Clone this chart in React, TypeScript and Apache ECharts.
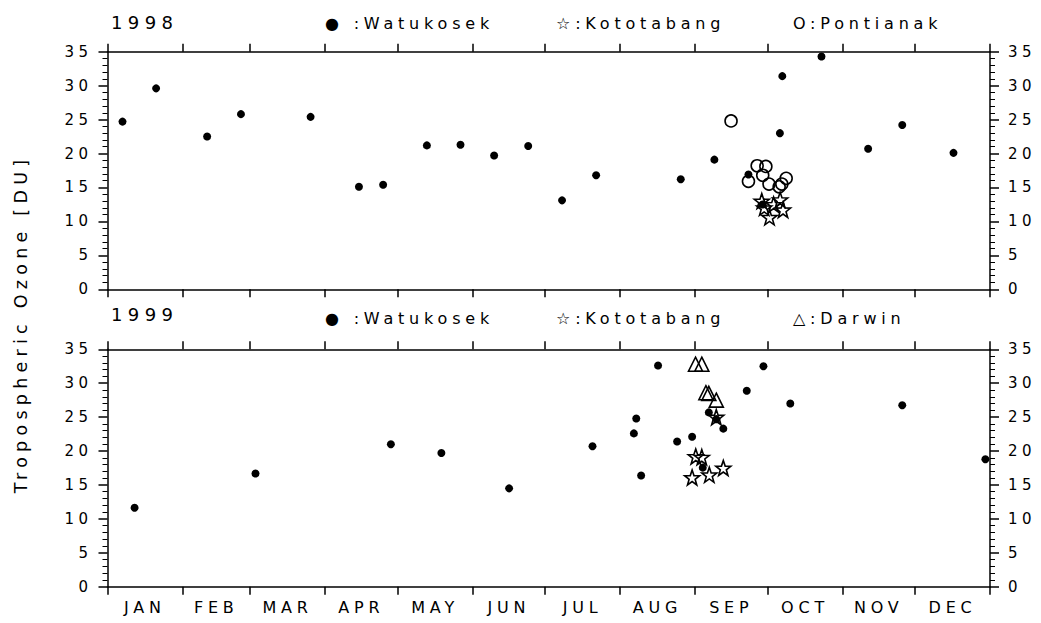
import React, { useEffect, useRef } from "react";
import * as echarts from "echarts";

const monthNames = ["JAN", "FEB", "MAR", "APR", "MAY", "JUN", "JUL", "AUG", "SEP", "OCT", "NOV", "DEC"];
const monthStarts = [0, 31, 59, 90, 120, 151, 181, 212, 243, 273, 304, 334, 365];
const monthMids = monthStarts.slice(0, 12).map((s, i) => (s + monthStarts[i + 1]) / 2);

// 1998
const wat98Days = [6.2, 20.1, 41.2, 55.2, 84.0, 104.0, 114.0, 132.1, 146.0, 159.9, 174.0, 188.0, 202.1, 237.1, 251.0, 265.1, 270.9, 278.1, 279.1, 295.3, 314.6, 328.7, 349.9];
const wat98Vals = [24.7, 29.6, 22.5, 25.8, 25.4, 15.1, 15.4, 21.2, 21.3, 19.7, 21.1, 13.1, 16.8, 16.2, 19.1, 16.9, 12.5, 23.0, 31.4, 34.3, 20.7, 24.2, 20.1];
const pon98Days = [257.9, 268.7, 272.3, 271.0, 265.1, 273.6, 277.8, 278.9, 280.7];
const pon98Vals = [24.8, 18.2, 18.1, 16.8, 15.9, 15.5, 15.1, 15.5, 16.35];
const kot98Days = [270.6, 278.2, 271.6, 275.5, 279.4, 273.8];
const kot98Vals = [13.0, 13.2, 12.0, 12.5, 11.7, 10.6];

// 1999
const wat99Days = [11.2, 61.2, 117.2, 138.1, 166.1, 200.6, 217.7, 218.7, 220.7, 227.7, 235.6, 241.8, 246.2, 248.7, 251.8, 254.7, 264.4, 271.3, 282.4, 328.7, 363.1];
const wat99Vals = [11.65, 16.7, 21.0, 19.7, 14.5, 20.7, 22.6, 24.8, 16.4, 32.6, 21.4, 22.1, 17.55, 25.7, 24.7, 23.3, 28.9, 32.5, 27.0, 26.75, 18.8];
const kot99Days = [251.8, 243.3, 245.8, 241.8, 248.9, 254.7];
const kot99Vals = [25.0, 19.2, 19.1, 16.1, 16.5, 17.5];
const dar99Days = [243.2, 245.8, 247.5, 248.7, 251.8];
const dar99Vals = [32.8, 32.8, 28.6, 28.5, 27.5];

const FONT = "DejaVu Sans";
const STAR = "path://M0,-10L2.35,-3.24L9.51,-3.09L3.8,1.24L5.88,8.09L0,4L-5.88,8.09L-3.8,1.24L-9.51,-3.09L-2.35,-3.24Z";

const zip = (d: number[], v: number[]) => d.map((x, i) => [x, v[i]]);

const lineStyle = { color: "#000", width: 1.5 };

function xAxisFor(gridIndex: number, position: string, labels: boolean) {
  return {
    type: "value",
    gridIndex,
    min: 0,
    max: 365,
    position,
    axisLine: { show: true, onZero: false, lineStyle },
    axisTick: { show: true, customValues: monthStarts, length: 8, lineStyle },
    axisLabel: labels
      ? {
          show: true,
          customValues: monthMids,
          margin: 13,
          fontSize: 16,
          fontFamily: FONT,
          color: "#000",
          formatter: (v: number) => {
            let best = 0;
            monthMids.forEach((m, i) => {
              if (Math.abs(m - v) < Math.abs(monthMids[best] - v)) best = i;
            });
            return monthNames[best];
          },
        }
      : { show: false },
    splitLine: { show: false },
  };
}

function yAxisFor(gridIndex: number, position: string) {
  return {
    type: "value",
    gridIndex,
    min: 0,
    max: 35,
    interval: 5,
    position,
    axisLine: { show: true, onZero: false, lineStyle },
    axisTick: { show: true, length: 9, lineStyle },
    minorTick: { show: true, splitNumber: 5, length: 5, lineStyle: { color: "#000", width: 1 } },
    axisLabel: { show: true, margin: position === "left" ? 15 : 18, fontSize: 15, fontFamily: FONT, color: "#000" },
    splitLine: { show: false },
  };
}

const dotSeries = (x: number, y: number, data: number[][]) => ({
  type: "scatter",
  xAxisIndex: x,
  yAxisIndex: y,
  data,
  symbol: "circle",
  symbolSize: 8,
  itemStyle: { color: "#000", opacity: 1 },
  z: 3,
});
const openSeries = (x: number, y: number, data: number[][], symbol: string, size: number, z: number) => ({
  type: "scatter",
  xAxisIndex: x,
  yAxisIndex: y,
  data,
  symbol,
  symbolSize: size,
  itemStyle: { color: "rgba(255,255,255,0)", borderColor: "#000", borderWidth: 1.6, opacity: 1 },
  z,
});

const txt = (text: string, x: number, y: number, size: number, extra: any = {}) => ({
  type: "text",
  x,
  y,
  ...extra,
  style: { text, fill: "#000", font: `${size}px "${FONT}"`, textVerticalAlign: "middle", textAlign: "left", ...(extra.style || {}) },
});

export default function App() {
  const ref = useRef<HTMLDivElement>(null);
  useEffect(() => {
    if (!ref.current) return;
    const chart = echarts.init(ref.current, undefined, { renderer: "svg" });
    chart.setOption({
      animation: false,
      backgroundColor: "#fff",
      grid: [
        { left: 107.5, right: 51, top: 51.7, height: 237.6 },
        { left: 107.5, right: 51, top: 349.3, height: 237.4 },
      ],
      xAxis: [
        xAxisFor(0, "bottom", false),
        xAxisFor(0, "top", false),
        xAxisFor(1, "bottom", true),
        xAxisFor(1, "top", false),
      ],
      yAxis: [yAxisFor(0, "left"), yAxisFor(0, "right"), yAxisFor(1, "left"), yAxisFor(1, "right")],
      series: [
        dotSeries(0, 0, zip(wat98Days, wat98Vals)),
        openSeries(0, 0, zip(pon98Days, pon98Vals), "circle", 12, 4),
        openSeries(0, 0, zip(kot98Days, kot98Vals), STAR, 15, 5),
        dotSeries(2, 2, zip(wat99Days, wat99Vals)),
        openSeries(2, 2, zip(kot99Days, kot99Vals), STAR, 15, 5),
        openSeries(2, 2, zip(dar99Days, dar99Vals), "triangle", 14, 6),
      ],
      graphic: [
        txt("1998", 111, 22, 18),
        txt("● :Watukosek", 325, 23, 16),
        txt("☆:Kototabang", 556, 23, 16),
        txt("O:Pontianak", 793, 23, 16),
        txt("1999", 111, 314, 18),
        txt("● :Watukosek", 325, 318, 16),
        txt("☆:Kototabang", 556, 318, 16),
        txt("△:Darwin", 793, 318, 16),
        txt("Tropospheric Ozone [DU]", 21, 324, 17.5, { rotation: Math.PI / 2, style: { textAlign: "center" } }),
      ],
    });
    return () => chart.dispose();
  }, []);
  return (
    <>
      <style>{`.oz-chart text { letter-spacing: 0.3em; }`}</style>
      <div
        ref={ref}
        className="oz-chart"
        style={{ position: "fixed", left: 0, top: 0, width: 1041, height: 623, background: "#fff" }}
      />
    </>
  );
}
